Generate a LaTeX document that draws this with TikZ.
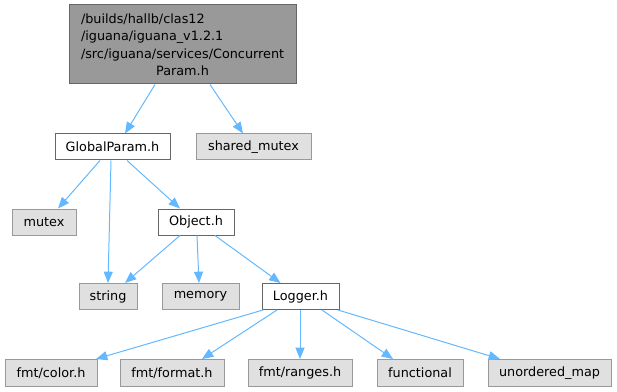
\documentclass[tikz,border=0pt]{standalone}
\usepackage{fontspec}
\setmainfont{DejaVu Sans}
\usetikzlibrary{arrows.meta}
\definecolor{edgeblue}{HTML}{63B8FF}
\definecolor{grayfill}{HTML}{E0E0E0}
\definecolor{grayborder}{HTML}{999999}
\definecolor{darkborder}{HTML}{666666}
\definecolor{topfill}{HTML}{999999}
\newcommand\pxu{0.75pt}
\tikzset{
  box/.style={draw, line width=0.75pt, inner sep=0pt, minimum height=26*\pxu,
    font=\fontsize{9.6}{11.5}\selectfont, text=black},
  sysbox/.style={box, draw=grayborder, fill=grayfill},
  filebox/.style={box, draw=darkborder, fill=white},
  dep/.style={draw=edgeblue, line width=0.75pt,
    -{Triangle[length=8.5pt, width=6.8pt, fill=edgeblue]}},
}
\begin{document}
\begin{tikzpicture}[x=0.75pt, y=-0.75pt]
\useasboundingbox (0,0) rectangle (617,392);
\node[box, draw=darkborder, fill=topfill, minimum width=227*\pxu, minimum height=79*\pxu,
  text width=203*\pxu, align=left, font=\fontsize{9.6}{13.1}\selectfont] (top) at (182.5,44.5)
  {/builds/hallb/clas12\\/iguana/iguana\_v1.2.1\\/src/iguana/services/Concurrent\\\makebox[\linewidth][c]{Param.h}};
\node[filebox, minimum width=115*\pxu] (gp) at (112.5,147) {GlobalParam.h};
\node[sysbox, minimum width=115*\pxu] (sm) at (253.5,147) {shared\_mutex};
\node[sysbox, minimum width=64*\pxu] (mutex) at (44,222) {mutex};
\node[filebox, minimum width=76*\pxu] (obj) at (196,222) {Object.h};
\node[sysbox, minimum width=58*\pxu] (string) at (108,296.5) {string};
\node[sysbox, minimum width=77*\pxu] (memory) at (200.5,296.5) {memory};
\node[filebox, minimum width=77*\pxu] (logger) at (300.5,296.5) {Logger.h};
\node[sysbox, minimum width=92*\pxu, minimum height=27*\pxu] (color) at (51,373) {fmt/color.h};
\node[sysbox, minimum width=104*\pxu, minimum height=27*\pxu] (format) at (172,373) {fmt/format.h};
\node[sysbox, minimum width=104*\pxu, minimum height=27*\pxu] (ranges) at (300,373) {fmt/ranges.h};
\node[sysbox, minimum width=86*\pxu, minimum height=27*\pxu] (functional) at (420,373) {functional};
\node[sysbox, minimum width=123*\pxu, minimum height=27*\pxu] (umap) at (549.5,373) {unordered\_map};

\draw[dep] ([xshift=-27.5*\pxu]top.south) -- ([xshift=12.5*\pxu]gp.north);
\draw[dep] ([xshift=27.5*\pxu]top.south) -- ([xshift=-10.5*\pxu]sm.north);
\draw[dep] ([xshift=-12.5*\pxu]gp.south) -- ([xshift=14*\pxu]mutex.north);
\draw[dep] ([xshift=-1.5*\pxu]gp.south) -- (string.north);
\draw[dep] ([xshift=14.5*\pxu]gp.south) -- ([xshift=-16*\pxu]obj.north);
\draw[dep] ([xshift=-16*\pxu]obj.south) -- ([xshift=17*\pxu]string.north);
\draw[dep] ([xshift=1*\pxu]obj.south) -- ([xshift=-1.5*\pxu]memory.north);
\draw[dep] ([xshift=19*\pxu]obj.south) -- ([xshift=-20*\pxu]logger.north);
\draw[dep] ([xshift=-37.5*\pxu]logger.south) -- ([xshift=45*\pxu]color.north);
\draw[dep] ([xshift=-23.5*\pxu]logger.south) -- ([xshift=30*\pxu]format.north);
\draw[dep] ([xshift=-0.5*\pxu]logger.south) -- (ranges.north);
\draw[dep] ([xshift=21.5*\pxu]logger.south) -- ([xshift=-27*\pxu]functional.north);
\draw[dep] ([xshift=37.5*\pxu]logger.south) -- ([xshift=-49.5*\pxu]umap.north);
\end{tikzpicture}
\end{document}
